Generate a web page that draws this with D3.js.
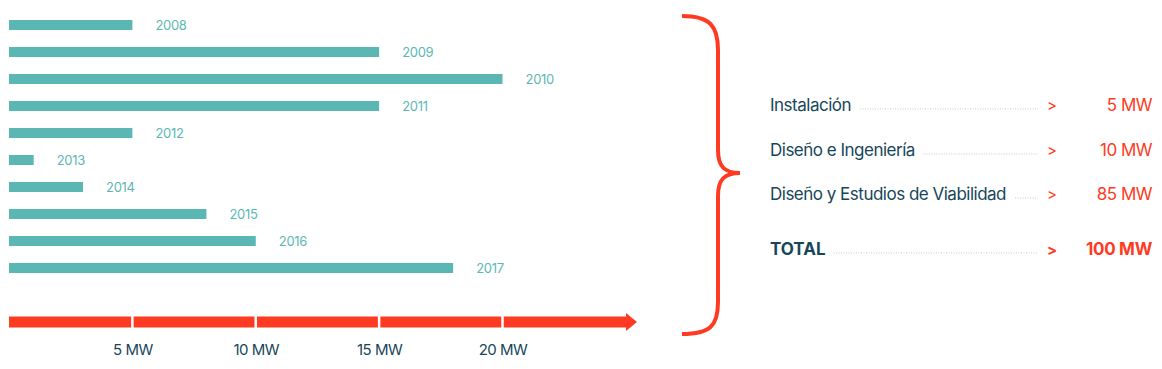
<!DOCTYPE html>
<html><head><meta charset="utf-8">
<script src="https://cdn.jsdelivr.net/npm/d3@7/dist/d3.min.js"></script>
<style>
html,body{margin:0;padding:0;background:#fff;}
svg{display:block;font-family:Inter,"Liberation Sans",sans-serif;}
</style></head>
<body><svg id="c" width="1162" height="369"></svg>
<script>
const years = ["2008","2009","2010","2011","2012","2013","2014","2015","2016","2017"];
const values = [5,15,20,15,5,1,3,8,10,18];
const tickValues = [5,10,15,20];
const tickLabels = ["5 MW","10 MW","15 MW","20 MW"];
const categories = ["Instalación","Diseño e Ingeniería","Diseño y Estudios de Viabilidad"];
const categoryValues = [5,10,85];
const totalLabel = "TOTAL";
const totalValue = 100;

const teal = "#5bb7b3", red = "#ff3a22", dark = "#17465a";
const svg = d3.select("#c");

const x = d3.scaleLinear().domain([0,20]).range([9,502.5]);
const y = d3.scaleBand().domain(years).range([11.5,281.5]).paddingInner(0.63).paddingOuter(0.315);

// bars
svg.append("g").selectAll("rect").data(years).join("rect")
  .attr("x", x(0)).attr("y", d=>y(d))
  .attr("width", (d,i)=>x(values[i])-x(0)).attr("height", y.bandwidth())
  .attr("fill", teal);
svg.append("g").selectAll("text").data(years).join("text")
  .attr("x",(d,i)=>x(values[i])+23).attr("y", d=>y(d)+y.bandwidth()/2+5)
  .attr("fill", teal).attr("font-size",13).attr("letter-spacing","-0.3")
  .text(d=>d);

// axis arrow
const axY = 322;
svg.append("rect").attr("x",x(0)).attr("y",axY-5.5).attr("width",627-x(0)).attr("height",11).attr("fill",red);
svg.append("path").attr("d",`M626,${axY-9}L637,${axY}L626,${axY+9}Z`).attr("fill",red);
svg.append("g").selectAll("line").data(tickValues).join("line")
  .attr("x1",d=>x(d)).attr("x2",d=>x(d)).attr("y1",axY-7).attr("y2",axY+7)
  .attr("stroke","#fff").attr("stroke-width",2.5);

const axis = d3.axisBottom(x).tickValues(tickValues).tickSize(0).tickPadding(0)
  .tickFormat((d,i)=>tickLabels[i]);
const ag = svg.append("g").attr("transform",`translate(0,${axY+22})`).call(axis);
ag.select(".domain").remove();
ag.selectAll("text").attr("fill",dark).attr("font-size",15).attr("letter-spacing","-0.5")
  .attr("font-family","Inter,'Liberation Sans',sans-serif");

// brace
svg.append("path")
  .attr("d","M682,16 C710,16 718,26 718,50 L718,150 C718,166 724,173 740,173 C724,173 718,180 718,196 L718,302 C718,326 710,334 682,334")
  .attr("fill","none").attr("stroke",red).attr("stroke-width",4).attr("stroke-linecap","butt");

// table
const rowsY = [111,156,200];
const leaderEnd = 1038;
const tg = svg.append("g");
categories.forEach((c,i)=>{
  const t = tg.append("text").attr("x",770).attr("y",rowsY[i]).attr("fill",dark)
    .attr("font-size",17).attr("letter-spacing","-0.5").text(c);
  const w = t.node().getComputedTextLength();
  tg.append("line").attr("x1",770+w+9).attr("x2",leaderEnd).attr("y1",rowsY[i]-2).attr("y2",rowsY[i]-2)
    .attr("stroke","#c8c8c8").attr("stroke-width",1).attr("stroke-dasharray","1,1.5");
  tg.append("text").attr("x",1047).attr("y",rowsY[i]).attr("fill",red).attr("font-size",15).text(">");
  tg.append("text").attr("x",1152).attr("y",rowsY[i]).attr("fill",red).attr("font-size",17)
    .attr("text-anchor","end").attr("letter-spacing","-0.5").text(categoryValues[i]+" MW");
});
const ty = 255;
const tt = tg.append("text").attr("x",770).attr("y",ty).attr("fill",dark).attr("font-weight","bold")
  .attr("font-size",17).attr("letter-spacing","0").text(totalLabel);
const tw = tt.node().getComputedTextLength();
tg.append("line").attr("x1",770+tw+8).attr("x2",leaderEnd).attr("y1",ty-2).attr("y2",ty-2)
  .attr("stroke","#c8c8c8").attr("stroke-width",1).attr("stroke-dasharray","1,1.5");
tg.append("text").attr("x",1047).attr("y",ty).attr("fill",red).attr("font-size",15).attr("font-weight","bold").text(">");
tg.append("text").attr("x",1152).attr("y",ty).attr("fill",red).attr("font-size",17).attr("font-weight","bold")
  .attr("text-anchor","end").attr("letter-spacing","-0.3").text(totalValue+" MW");
</script></body></html>
